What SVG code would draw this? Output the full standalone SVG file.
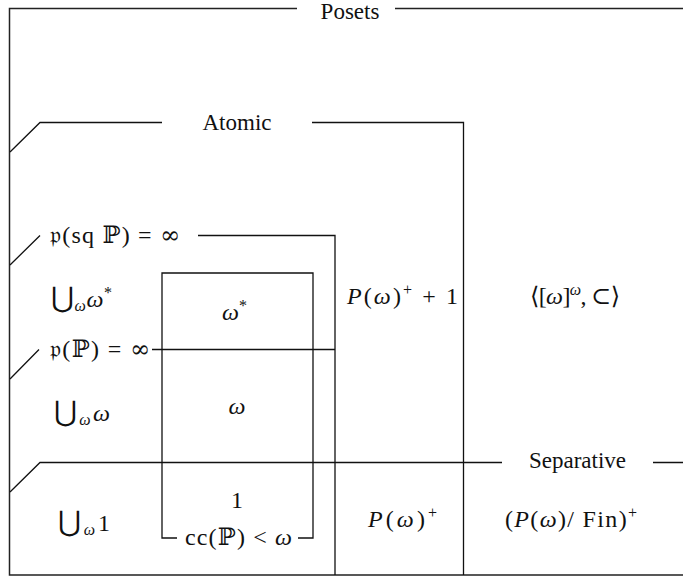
<svg xmlns="http://www.w3.org/2000/svg" width="683" height="580" viewBox="0 0 683 580">
<style>
.ln{fill:none;stroke:#111;stroke-width:1.3}
.fr{fill:none;stroke:#222;stroke-width:1.5}
.t{font-family:"Liberation Serif","Times New Roman",serif;font-size:23px;fill:#111}
.m{font-family:"Liberation Serif","DejaVu Serif",serif;font-size:24px;fill:#111}
.i{font-style:italic}
.s{font-family:"DejaVu Serif","DejaVu Sans",serif}
.sm{font-size:16px}
</style>
<rect width="683" height="580" fill="#fff"/>
<g id="connectors">
<path class="fr" d="M297,8.5 H9.5 V575 H683 M395,8.5 H683"/>
<path class="ln" d="M10,152 L40,122.5 H162 M312,122.5 H463.5 V575"/>
<path class="ln" d="M10,265 L40,235.5 M198,235.5 H335 V575"/>
<path class="ln" d="M10,379 L39,349.5 M152,349.5 H335"/>
<path class="ln" d="M10,492 L40,462.5 H502 M653,462.5 H683"/>
<path class="ln" d="M177,538 H162 V273 H313 V538 H298"/>
</g>
<g id="posets"><text class="t" x="350" y="19" text-anchor="middle">Posets</text></g>
<g id="atomic"><text class="t" x="237" y="130" text-anchor="middle">Atomic</text></g>
<g id="separative"><text class="t" x="577.5" y="468" text-anchor="middle">Separative</text></g>
<g id="p-sqP"><text class="m" x="50" y="243" textLength="130" lengthAdjust="spacing"><tspan class="s">𝔭</tspan>(sq <tspan class="s">ℙ</tspan>) = <tspan class="s">∞</tspan></text></g>
<g id="pP"><text class="m" x="50" y="357" textLength="100" lengthAdjust="spacing"><tspan class="s">𝔭</tspan>(<tspan class="s">ℙ</tspan>) = <tspan class="s">∞</tspan></text></g>
<g id="cup-omega-star"><text class="m" x="51" y="307" textLength="61" lengthAdjust="spacing"><tspan class="s" font-size="28">⋃</tspan><tspan class="sm i" dy="4">ω</tspan><tspan class="i" dy="-4">ω</tspan><tspan class="sm" dy="-9">*</tspan></text></g>
<g id="omega-star"><text class="m" x="222" y="320"><tspan class="i">ω</tspan><tspan class="sm" dy="-9">*</tspan></text></g>
<g id="P-plus-1"><text class="m" x="347" y="304" textLength="111" lengthAdjust="spacing"><tspan class="i">P</tspan>(<tspan class="i">ω</tspan>)<tspan class="sm" dy="-9">+</tspan><tspan dy="9"> + 1</tspan></text></g>
<g id="omega-omega"><text class="m" x="530" y="304" textLength="90" lengthAdjust="spacing"><tspan class="s">⟨</tspan>[<tspan class="i">ω</tspan>]<tspan class="sm i" dy="-9">ω</tspan><tspan dy="9">, </tspan><tspan class="s">⊂⟩</tspan></text></g>
<g id="cup-omega"><text class="m" x="54" y="421" textLength="56" lengthAdjust="spacing"><tspan class="s" font-size="28">⋃</tspan><tspan class="sm i" dy="4">ω</tspan><tspan class="i" dy="-4">ω</tspan></text></g>
<g id="omega"><text class="m i" x="237" y="414" text-anchor="middle">ω</text></g>
<g id="one"><text class="m" x="237" y="508" text-anchor="middle">1</text></g>
<g id="cup-one"><text class="m" x="58" y="531" textLength="52" lengthAdjust="spacing"><tspan class="s" font-size="28">⋃</tspan><tspan class="sm i" dy="4">ω</tspan><tspan dy="-4">1</tspan></text></g>
<g id="ccP"><text class="m" x="185" y="545" textLength="107" lengthAdjust="spacing">cc(<tspan class="s">ℙ</tspan>) &lt; <tspan class="i">ω</tspan></text></g>
<g id="P-plus"><text class="m" x="368" y="527" textLength="69" lengthAdjust="spacing"><tspan class="i">P</tspan>(<tspan class="i">ω</tspan>)<tspan class="sm" dy="-9">+</tspan></text></g>
<g id="PFin-plus"><text class="m" x="505" y="527" textLength="132" lengthAdjust="spacing">(<tspan class="i">P</tspan>(<tspan class="i">ω</tspan>)/ Fin)<tspan class="sm" dy="-9">+</tspan></text></g>
</svg>
